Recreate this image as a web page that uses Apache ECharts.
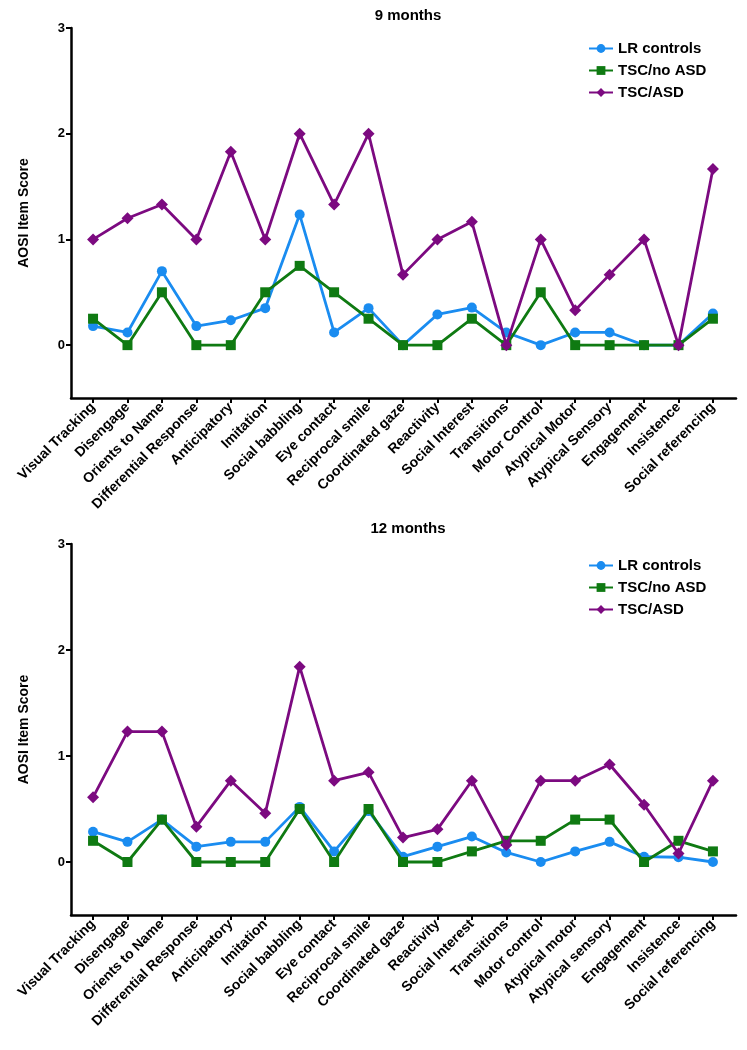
<!DOCTYPE html>
<html><head><meta charset="utf-8">
<script src="https://cdn.jsdelivr.net/npm/echarts@6/dist/echarts.min.js"></script>
<style>html,body{margin:0;padding:0;background:#fff}#c{width:747px;height:1050px}</style>
</head><body><div id="c"></div>
<script>
const cats9 = ["Visual Tracking","Disengage","Orients to Name","Differential Response","Anticipatory","Imitation","Social babbling","Eye contact","Reciprocal smile","Coordinated gaze","Reactivity","Social Interest","Transitions","Motor Control","Atypical Motor","Atypical Sensory","Engagement","Insistence","Social referencing"];
const cats12 = ["Visual Tracking","Disengage","Orients to Name","Differential Response","Anticipatory","Imitation","Social babbling","Eye contact","Reciprocal smile","Coordinated gaze","Reactivity","Social Interest","Transitions","Motor control","Atypical motor","Atypical sensory","Engagement","Insistence","Social referencing"];
const seriesNames = ["LR controls","TSC/no ASD","TSC/ASD"];
const lr9 = [0.18,0.12,0.70,0.18,0.235,0.35,1.235,0.12,0.35,0,0.29,0.355,0.12,0,0.12,0.12,0,0,0.30];
const noasd9 = [0.25,0,0.5,0,0,0.5,0.75,0.5,0.25,0,0,0.25,0,0.5,0,0,0,0,0.25];
const asd9 = [1.0,1.2,1.33,1.0,1.83,1.0,2.0,1.33,2.0,0.667,1.0,1.167,0,1.0,0.33,0.667,1.0,0,1.667];
const lr12 = [0.286,0.19,0.40,0.145,0.19,0.19,0.52,0.10,0.48,0.05,0.145,0.24,0.09,0,0.10,0.19,0.05,0.045,0];
const noasd12 = [0.2,0,0.4,0,0,0,0.5,0,0.5,0,0,0.1,0.2,0.2,0.4,0.4,0,0.2,0.1];
const asd12 = [0.61,1.23,1.23,0.333,0.767,0.46,1.843,0.767,0.846,0.23,0.308,0.767,0.16,0.767,0.767,0.92,0.54,0.08,0.767];
const yTicks = [0,1,2,3];

const colors = ['#1a8cf0','#0f7a12','#7c0a80'];
const symbols = ['circle','rect','diamond'];
const symSizes = [10,10,12];
const font = 'Liberation Sans, Arial, sans-serif';
const idx = cats9.map((_,i)=>i);

function mkX(gi, cats){
  return {
    type:'value', gridIndex:gi, min:-0.64, max:18.67,
    axisLine:{show:true,onZero:false,lineStyle:{color:'#000',width:2.5}},
    axisTick:{show:true,customValues:idx,length:5,lineStyle:{color:'#000',width:2}},
    axisLabel:{customValues:idx,rotate:45,margin:7,color:'#000',fontWeight:'bold',fontSize:14,fontFamily:font,
      formatter:v=>cats[Math.round(v)]},
    splitLine:{show:false}
  };
}
function mkY(gi){
  return {
    type:'value', gridIndex:gi, min:-0.5, max:3,
    name:'AOSI Item Score', nameLocation:'middle', nameGap:40,
    nameTextStyle:{color:'#000',fontWeight:'bold',fontSize:14,fontFamily:font},
    axisLine:{show:true,onZero:false,lineStyle:{color:'#000',width:2.5}},
    axisTick:{show:true,customValues:yTicks,length:5,lineStyle:{color:'#000',width:2}},
    axisLabel:{customValues:yTicks,color:'#000',fontWeight:'bold',fontSize:13,fontFamily:font,margin:6},
    splitLine:{show:false}
  };
}
function mkSeries(gi, arrs){
  return arrs.map((arr,k)=>({
    name:seriesNames[k], type:'line', xAxisIndex:gi, yAxisIndex:gi,
    data:arr.map((v,i)=>[i,v]),
    symbol:symbols[k], symbolSize:symSizes[k], showAllSymbol:true,
    lineStyle:{color:colors[k],width:2.8}, itemStyle:{color:colors[k]},
    z:2+k, animation:false
  }));
}
function mkLegend(top){
  return {
    data:seriesNames, orient:'vertical', left:583, top:top, itemWidth:24, itemHeight:11, itemGap:7,
    textStyle:{color:'#000',fontWeight:'bold',fontSize:15,fontFamily:font}
  };
}
const chart = echarts.init(document.getElementById('c'));
chart.setOption({
  animation:false,
  title:[
    {text:'9 months',left:403,textAlign:'center',top:3,textStyle:{fontSize:15,fontWeight:'bold',color:'#000',fontFamily:font}},
    {text:'12 months',left:403,textAlign:'center',top:516,textStyle:{fontSize:15,fontWeight:'bold',color:'#000',fontFamily:font}}
  ],
  legend:[mkLegend(36), mkLegend(553)],
  grid:[
    {left:71,right:11,top:28,height:370},
    {left:71,right:11,top:544,height:371}
  ],
  xAxis:[mkX(0,cats9), mkX(1,cats12)],
  yAxis:[mkY(0), mkY(1)],
  series:[...mkSeries(0,[lr9,noasd9,asd9]), ...mkSeries(1,[lr12,noasd12,asd12])]
});
</script></body></html>
